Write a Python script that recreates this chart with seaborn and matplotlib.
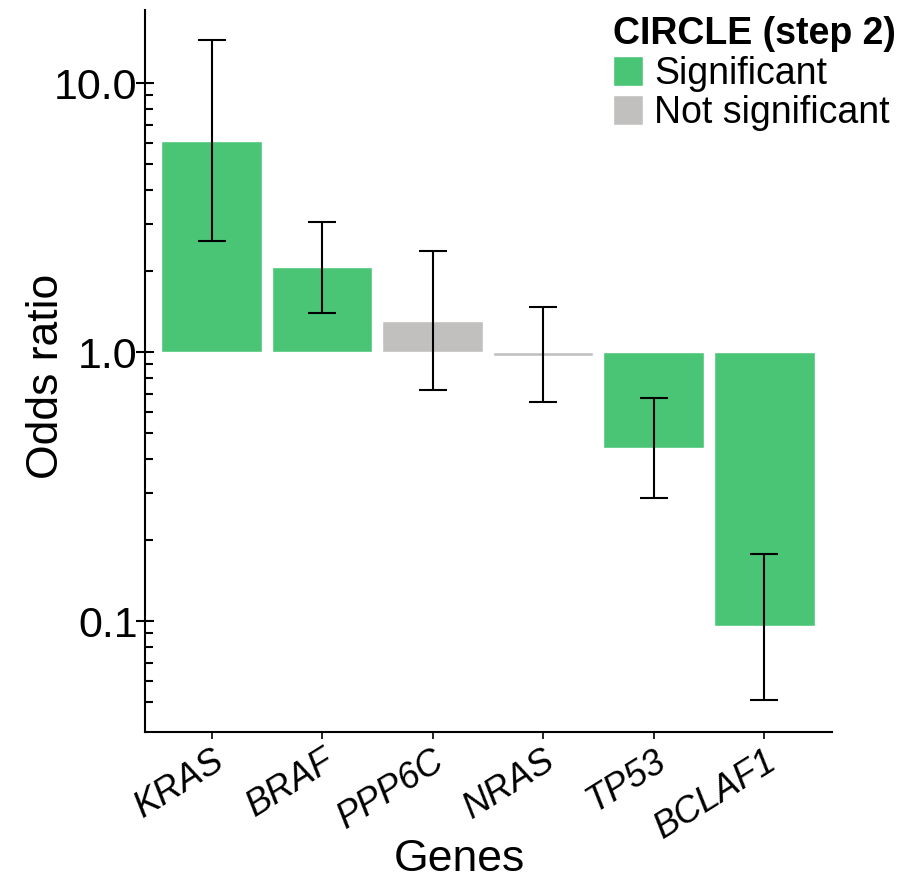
import matplotlib.pyplot as plt
import numpy as np
import pandas as pd
import seaborn as sns
from matplotlib.ticker import FixedLocator, FixedFormatter, NullFormatter


genes = ["KRAS", "BRAF", "PPP6C", "NRAS", "TP53", "BCLAF1"]
odds_ratio = [6.1, 2.07, 1.30, 0.97, 0.44, 0.096]
ci_low = [2.59, 1.40, 0.72, 0.65, 0.286, 0.051]
ci_high = [14.4, 3.04, 2.37, 1.47, 0.675, 0.177]
significance = [
    "Significant",
    "Significant",
    "Not significant",
    "Not significant",
    "Significant",
    "Significant",
]

major_ticks = [0.1, 1.0, 10.0]
major_labels = ["0.1", "1.0", "10.0"]
minor_ticks = [0.05, 0.06, 0.07, 0.08, 0.09,
               0.2, 0.3, 0.4, 0.5, 0.6, 0.7, 0.8, 0.9,
               2, 3, 4, 5, 6, 7, 8, 9]

palette = {"Significant": "#49C575", "Not significant": "#C1C0BE"}


def main():
    df = pd.DataFrame({
        "gene": genes,
        "odds_ratio": odds_ratio,
        "ci_low": ci_low,
        "ci_high": ci_high,
        "significance": significance,
    })
    # bars start at OR = 1, so work in log10 space
    df["log_or"] = np.log10(df["odds_ratio"])
    df["log_low"] = np.log10(df["ci_low"])
    df["log_high"] = np.log10(df["ci_high"])

    sns.set_style("ticks")
    plt.rcParams["font.family"] = ["Liberation Sans", "DejaVu Sans"]
    plt.rcParams["text.color"] = "black"
    plt.rcParams["axes.labelcolor"] = "black"
    plt.rcParams["xtick.color"] = "black"
    plt.rcParams["ytick.color"] = "black"

    fig = plt.figure(figsize=(9.04, 8.8), dpi=100)
    ax = fig.add_axes([0.160, 0.168, 0.760, 0.8206])

    sns.barplot(
        data=df,
        x="gene",
        y="log_or",
        hue="significance",
        hue_order=["Significant", "Not significant"],
        palette=palette,
        dodge=False,
        width=0.91,
        saturation=1,
        ax=ax,
    )

    ax.errorbar(
        x=np.arange(len(df)),
        y=df["log_or"],
        yerr=[df["log_or"] - df["log_low"], df["log_high"] - df["log_or"]],
        fmt="none",
        ecolor="black",
        elinewidth=1.5,
        capsize=10,
        capthick=1.5,
        zorder=5,
    )

    ax.set_xlim(-0.606, 5.61)
    ax.set_ylim(-1.4126, 1.2714)

    ax.yaxis.set_major_locator(FixedLocator(np.log10(major_ticks)))
    ax.yaxis.set_major_formatter(FixedFormatter(major_labels))
    ax.yaxis.set_minor_locator(FixedLocator(np.log10(minor_ticks)))
    ax.yaxis.set_minor_formatter(NullFormatter())
    ax.tick_params(axis="y", which="major", direction="inout", length=13,
                   width=1.5, labelsize=31, pad=-1.5)
    ax.tick_params(axis="y", which="minor", direction="in", length=6,
                   width=1.5)
    ax.tick_params(axis="x", which="major", direction="out", length=5,
                   width=1.2, labelsize=26, pad=3)

    for label in ax.get_xticklabels():
        label.set_rotation(32)
        label.set_ha("right")
        label.set_rotation_mode("anchor")
        label.set_style("italic")

    ax.set_xlabel("Genes", fontsize=32)
    ax.set_ylabel("Odds ratio", fontsize=32)
    ax.xaxis.set_label_coords(0.4585, -0.148)
    ax.yaxis.set_label_coords(-0.113, 0.493)

    sns.despine(ax=ax)
    for side in ["left", "bottom"]:
        ax.spines[side].set_linewidth(1.5)
        ax.spines[side].set_color("black")

    handles, labels = ax.get_legend_handles_labels()
    ax.get_legend().remove()
    fig.legend(
        handles,
        labels,
        title="CIRCLE (step 2)",
        loc="upper left",
        bbox_to_anchor=(0.678, 0.982),
        frameon=False,
        fontsize=27,
        title_fontproperties={"weight": "bold", "size": 27},
        handlelength=0.8,
        handleheight=0.85,
        handletextpad=0.3,
        labelspacing=0.1,
        borderpad=0,
        borderaxespad=0,
        alignment="left",
    )

    fig.savefig("out.png", dpi=100)
    plt.close(fig)


if __name__ == "__main__":
    main()
